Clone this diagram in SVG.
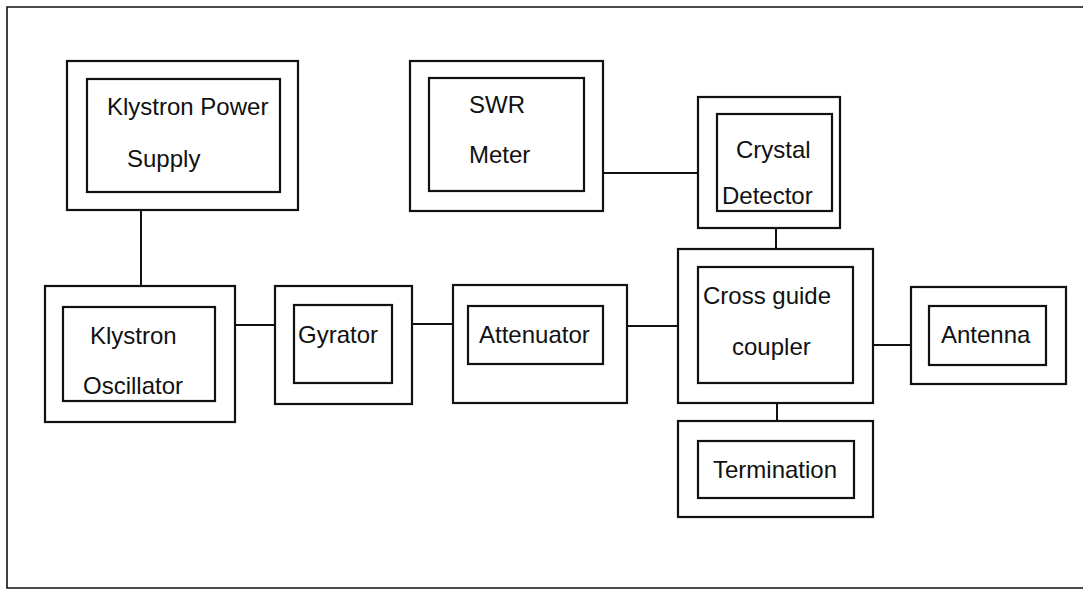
<svg xmlns="http://www.w3.org/2000/svg" width="1083" height="591" viewBox="0 0 1083 591">
  <style>
    .box { fill: none; stroke: #111; stroke-width: 2.2; }
    .wire { fill: none; stroke: #111; stroke-width: 2; }
    .frame { fill: none; stroke: #111; stroke-width: 1.6; }
    text { font-family: "Liberation Sans", Arial, sans-serif; font-size: 24px; fill: #111; }
  </style>
  <rect width="1083" height="591" fill="#fff"/>
  <path class="frame" d="M1083,7 H7 V588 H1083"/>

  <g id="connectors">
    <line class="wire" x1="141" y1="210" x2="141" y2="286"/>
    <line class="wire" x1="603" y1="173" x2="698" y2="173"/>
    <line class="wire" x1="776" y1="228" x2="776" y2="249"/>
    <line class="wire" x1="235" y1="325" x2="275" y2="325"/>
    <line class="wire" x1="412" y1="324" x2="453" y2="324"/>
    <line class="wire" x1="627" y1="326" x2="678" y2="326"/>
    <line class="wire" x1="873" y1="345" x2="911" y2="345"/>
    <line class="wire" x1="777" y1="403" x2="777" y2="421"/>
  </g>

  <g id="klystron-power-supply">
    <rect class="box" x="67" y="61" width="231" height="149"/>
    <rect class="box" x="87" y="79" width="193" height="113"/>
    <text x="107" y="115">Klystron Power</text>
    <text x="127" y="167">Supply</text>
  </g>

  <g id="swr-meter">
    <rect class="box" x="410" y="61" width="193" height="150"/>
    <rect class="box" x="429" y="78" width="155" height="113"/>
    <text x="469" y="113">SWR</text>
    <text x="469" y="163">Meter</text>
  </g>

  <g id="crystal-detector">
    <rect class="box" x="698" y="97" width="142" height="131"/>
    <rect class="box" x="717" y="114" width="115" height="97"/>
    <text x="736" y="158">Crystal</text>
    <text x="722" y="204">Detector</text>
  </g>

  <g id="klystron-oscillator">
    <rect class="box" x="45" y="286" width="190" height="136"/>
    <rect class="box" x="63" y="307" width="152" height="94"/>
    <text x="90" y="344">Klystron</text>
    <text x="83" y="394">Oscillator</text>
  </g>

  <g id="gyrator">
    <rect class="box" x="275" y="286" width="137" height="118"/>
    <rect class="box" x="294" y="305" width="98" height="78"/>
    <text x="298" y="343">Gyrator</text>
  </g>

  <g id="attenuator">
    <rect class="box" x="453" y="285" width="174" height="118"/>
    <rect class="box" x="468" y="306" width="135" height="58"/>
    <text x="479" y="343">Attenuator</text>
  </g>

  <g id="cross-guide-coupler">
    <rect class="box" x="678" y="249" width="195" height="154"/>
    <rect class="box" x="698" y="267" width="155" height="116"/>
    <text x="703" y="304">Cross guide</text>
    <text x="732" y="355">coupler</text>
  </g>

  <g id="antenna">
    <rect class="box" x="911" y="287" width="155" height="97"/>
    <rect class="box" x="929" y="306" width="117" height="59"/>
    <text x="941" y="343">Antenna</text>
  </g>

  <g id="termination">
    <rect class="box" x="678" y="421" width="195" height="96"/>
    <rect class="box" x="698" y="441" width="156" height="57"/>
    <text x="713" y="478">Termination</text>
  </g>
</svg>
